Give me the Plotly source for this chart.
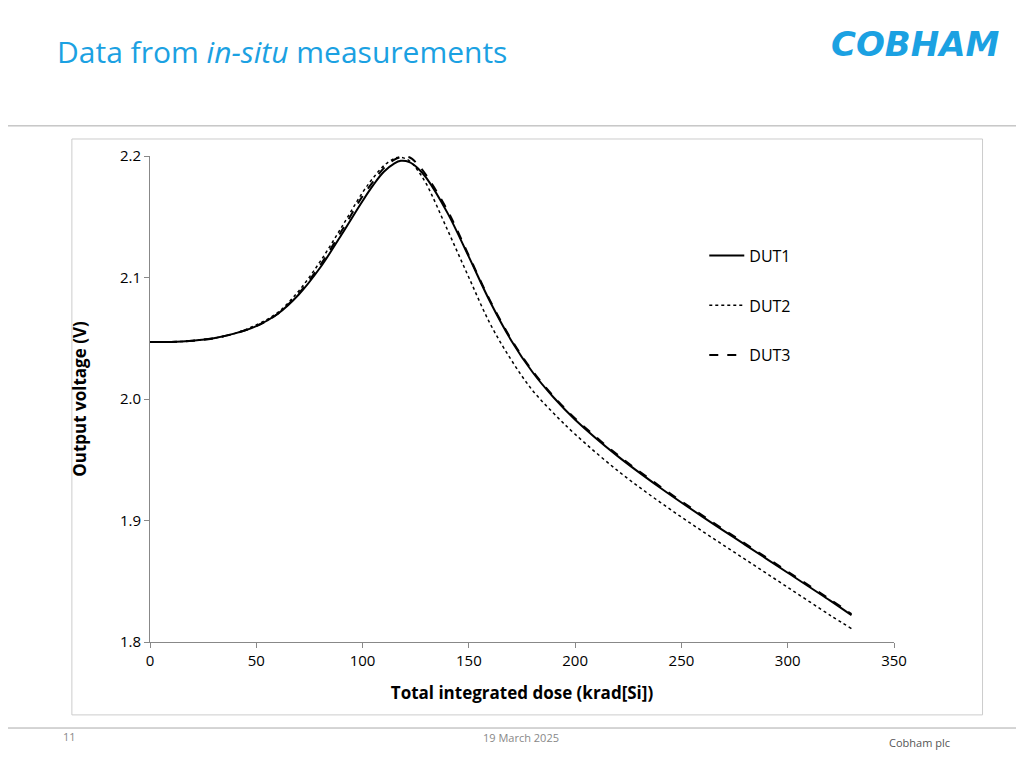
import plotly.graph_objects as go

dose = [0, 10, 20, 30, 40, 50, 60, 70, 80, 90, 100, 105, 110, 115, 118, 122, 126, 130, 140, 150, 160, 170, 180, 190, 200, 220, 240, 260, 280, 300, 320, 330]
dut1 = [2.047, 2.047, 2.048, 2.050, 2.054, 2.060, 2.070, 2.086, 2.108, 2.135, 2.163, 2.176, 2.187, 2.194, 2.196, 2.195, 2.190, 2.182, 2.153, 2.117, 2.080, 2.048, 2.022, 2.001, 1.983, 1.953, 1.927, 1.903, 1.880, 1.857, 1.834, 1.822]
dut2 = [2.047, 2.047, 2.048, 2.050, 2.054, 2.061, 2.071, 2.089, 2.113, 2.141, 2.170, 2.182, 2.192, 2.198, 2.199, 2.196, 2.188, 2.177, 2.139, 2.100, 2.062, 2.032, 2.007, 1.988, 1.971, 1.941, 1.915, 1.891, 1.868, 1.845, 1.822, 1.811]
dut3 = [2.047, 2.047, 2.048, 2.050, 2.054, 2.060, 2.070, 2.087, 2.110, 2.138, 2.167, 2.179, 2.190, 2.197, 2.199, 2.199, 2.193, 2.184, 2.155, 2.118, 2.081, 2.049, 2.023, 2.002, 1.984, 1.954, 1.928, 1.904, 1.881, 1.858, 1.835, 1.823]

fig = go.Figure()
for name, y, dash, w in [("DUT1", dut1, "solid", 2), ("DUT2", dut2, "dot", 1.5), ("DUT3", dut3, "dash", 2)]:
    fig.add_trace(go.Scatter(x=dose, y=y, mode="lines", name=name, legendgroup=name,
                             line=dict(color="black", width=w, dash=dash, shape="spline")))

blue = "#1BA1E2"
fig.update_layout(
    width=1024, height=768, paper_bgcolor="white", plot_bgcolor="white",
    margin=dict(l=142, r=138, t=148, b=134),
    font=dict(family="Open Sans", size=15, color="black"),
    legend=dict(x=0.745, y=0.83, xanchor="left", yanchor="top", itemwidth=35,
                traceorder="grouped", tracegroupgap=26, font=dict(size=16)),
    xaxis=dict(range=[0, 350], dtick=50, showline=True, linecolor="#888", ticks="outside",
               ticklen=5, tickcolor="#888", showgrid=False, zeroline=False,
               title=dict(text="<b>Total integrated dose (krad[Si])</b>", font=dict(size=17), standoff=18)),
    yaxis=dict(range=[1.8, 2.2], dtick=0.1, tickformat=".1f", showline=True, linecolor="#888",
               ticks="outside", ticklen=5, tickcolor="#888", showgrid=False, zeroline=False,
               title=dict(text="<b>Output voltage (V)</b>", font=dict(size=17), standoff=28)),
    shapes=[
        dict(type="line", xref="paper", yref="paper", x0=-0.2, x1=1.22, y0=1.062, y1=1.062, line=dict(color="#aaa", width=1)),
        dict(type="rect", xref="paper", yref="paper", x0=-0.105, x1=1.119, y0=-0.15, y1=1.035, line=dict(color="#ccc", width=1)),
        dict(type="line", xref="paper", yref="paper", x0=-0.2, x1=1.22, y0=-0.177, y1=-0.177, line=dict(color="#aaa", width=1)),
    ],
    annotations=[
        dict(text="Data from <i>in-situ</i> measurements", xref="paper", yref="paper", x=-0.128, y=1.216,
             xanchor="left", yanchor="middle", showarrow=False, font=dict(size=30, color=blue)),
        dict(text="<b><i>COBHAM</i></b>", xref="paper", yref="paper", x=1.145, y=1.23,
             xanchor="right", yanchor="middle", showarrow=False, font=dict(size=34, color=blue, family="DejaVu Sans")),
        dict(text="11", xref="paper", yref="paper", x=-0.12, y=-0.214, showarrow=False,
             font=dict(size=11, color="#888")),
        dict(text="19 March 2025", xref="paper", yref="paper", x=0.498, y=-0.216, showarrow=False,
             font=dict(size=11, color="#888")),
        dict(text="Cobham plc", xref="paper", yref="paper", x=1.078, y=-0.227, showarrow=False,
             font=dict(size=11, color="#555")),
    ],
)
fig.write_html("out.html")
